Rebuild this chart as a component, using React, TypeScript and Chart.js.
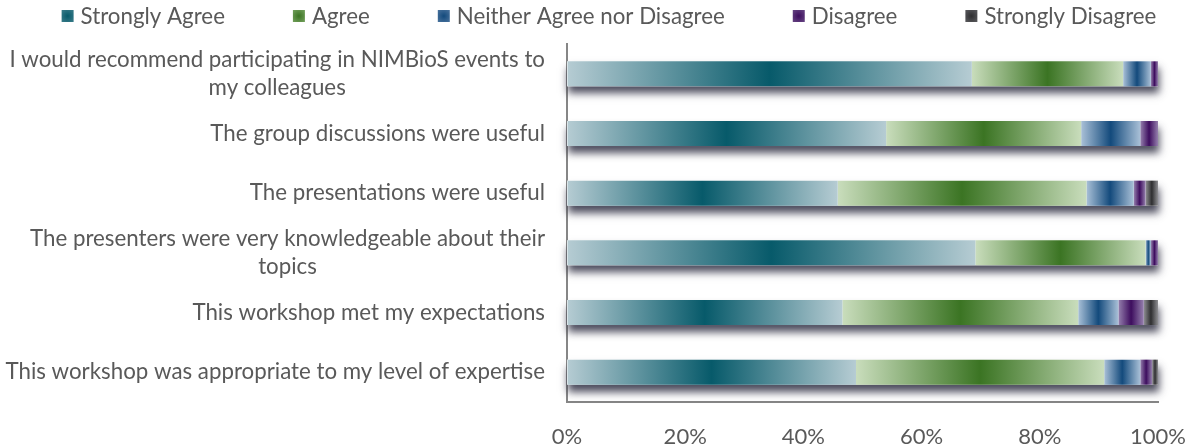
import React, { useEffect, useRef } from "react";
import { Chart, registerables } from "chart.js";

Chart.register(...registerables);

// ---------- data ----------
const categories: string[][] = [
  ["I would recommend participating in NIMBioS events to", "my colleagues"],
  ["The group discussions were useful"],
  ["The presentations were useful"],
  ["The presenters were very knowledgeable about their", "topics"],
  ["This workshop met my expectations"],
  ["This workshop was appropriate to my level of expertise"],
];
const seriesNames = [
  "Strongly Agree",
  "Agree",
  "Neither Agree nor Disagree",
  "Disagree",
  "Strongly Disagree",
];
const stronglyAgree = [68.5, 54.0, 45.8, 69.1, 46.6, 48.9];
const agree = [25.6, 33.0, 42.1, 28.8, 39.9, 42.0];
const neitherAgreeNorDisagree = [4.7, 10.0, 8.0, 0.9, 6.8, 6.1];
const disagree = [1.2, 3.0, 2.0, 1.2, 4.3, 2.0];
const stronglyDisagree = [0, 0, 2.1, 0, 2.4, 1.0];
const xTickValues = [0, 20, 40, 60, 80, 100];

// ---------- style ----------
const FONT = "Lato, 'Open Sans', sans-serif";
const FONT_SIZE = 22.3;
const TICK_SIZE = 22;
const TEXT = "#595959";
const AXIS = "#868686";

const palette = [
  { edge: "#b6ccd3", dark: "#075a6a", mid: "#3f7f8c" },
  { edge: "#c9ddbc", dark: "#3b7423", mid: "#78a461" },
  { edge: "#a9c0d7", dark: "#134a7c", mid: "#4f76a0" },
  { edge: "#9580ad", dark: "#3d0d5e", mid: "#6a4a86" },
  { edge: "#8e8e92", dark: "#2e2e30", mid: "#5e5e62" },
];

function segmentFill(c: any) {
  const p = palette[c.datasetIndex] || palette[0];
  const chart = c.chart;
  const xs = chart && chart.scales ? chart.scales.x : null;
  if (c.type !== "data" || !xs || !chart.chartArea) return p.mid;
  const i = c.dataIndex;
  const ds = chart.data.datasets;
  let start = 0;
  for (let d = 0; d < c.datasetIndex; d++) start += Number(ds[d].data[i]) || 0;
  const end = start + (Number(ds[c.datasetIndex].data[i]) || 0);
  const x0 = xs.getPixelForValue(start);
  const x1 = xs.getPixelForValue(end);
  if (!(x1 - x0 > 0.5)) return p.dark;
  const g = chart.ctx.createLinearGradient(x0, 0, x1, 0);
  g.addColorStop(0, p.edge);
  g.addColorStop(0.5, p.dark);
  g.addColorStop(1, p.edge);
  return g;
}

const shadowPlugin = {
  id: "barShadow",
  beforeDatasetsDraw(chart: any) {
    const { ctx } = chart;
    const xs = chart.scales.x;
    const meta0 = chart.getDatasetMeta(0);
    const ds = chart.data.datasets;
    ctx.save();
    ctx.shadowColor = "rgba(45,45,65,0.85)";
    ctx.shadowBlur = 8;
    ctx.shadowOffsetY = 7;
    ctx.shadowOffsetX = 1;
    ctx.fillStyle = "#ffffff";
    meta0.data.forEach((el: any, i: number) => {
      let total = 0;
      ds.forEach((d: any) => (total += Number(d.data[i]) || 0));
      const x0 = xs.getPixelForValue(0);
      const x1 = xs.getPixelForValue(total);
      const h = el.height;
      ctx.fillRect(x0, el.y - h / 2, x1 - x0, h);
    });
    ctx.restore();
  },
};

const yLabelPlugin = {
  id: "yLabels",
  afterDraw(chart: any) {
    const { ctx } = chart;
    const ys = chart.scales.y;
    const right = chart.chartArea.left - 22;
    const lineH = 28;
    ctx.save();
    ctx.font = `${FONT_SIZE}px ${FONT}`;
    ctx.fillStyle = TEXT;
    ctx.textBaseline = "middle";
    (chart.data.labels as string[][]).forEach((lines, i) => {
      const yc = ys.getPixelForValue(i);
      const widths = lines.map((l) => ctx.measureText(l).width);
      const w = Math.max(...widths);
      const cx = right - w / 2;
      lines.forEach((l, k) => {
        const y = yc + (k - (lines.length - 1) / 2) * lineH;
        if (lines.length === 1) {
          ctx.textAlign = "right";
          ctx.fillText(l, right, y);
        } else {
          ctx.textAlign = "center";
          ctx.fillText(l, cx, y);
        }
      });
    });
    ctx.restore();
  },
};

const legendPlugin = {
  id: "gradLegend",
  afterDraw(chart: any) {
    const { ctx } = chart;
    const box = 12;
    const boxGap = 7;
    const itemGap = 68;
    const cy = 16;
    const centerX = 609;
    ctx.save();
    ctx.font = `${FONT_SIZE}px ${FONT}`;
    ctx.textBaseline = "middle";
    ctx.textAlign = "left";
    const names = chart.data.datasets.map((d: any) => d.label);
    const widths = names.map((n: string) => ctx.measureText(n).width);
    const total =
      widths.reduce((a: number, w: number) => a + box + boxGap + w, 0) +
      itemGap * (names.length - 1);
    let x = centerX - total / 2;
    names.forEach((n: string, i: number) => {
      const p = palette[i];
      const bx = x + box / 2;
      const g = ctx.createRadialGradient(bx, cy, 0, bx, cy, box * 0.75);
      g.addColorStop(0, p.dark);
      g.addColorStop(1, p.mid);
      ctx.fillStyle = g;
      ctx.fillRect(x, cy - box / 2, box, box);
      ctx.fillStyle = TEXT;
      ctx.fillText(n, x + box + boxGap, cy + 1);
      x += box + boxGap + widths[i] + itemGap;
    });
    ctx.restore();
  },
};

export default function App() {
  const canvasRef = useRef<HTMLCanvasElement | null>(null);

  useEffect(() => {
    if (!canvasRef.current) return;
    Chart.defaults.font.family = FONT;
    Chart.defaults.color = TEXT;
    const seriesValues = [
      stronglyAgree,
      agree,
      neitherAgreeNorDisagree,
      disagree,
      stronglyDisagree,
    ];
    const chart = new Chart(canvasRef.current, {
      type: "bar",
      data: {
        labels: categories,
        datasets: seriesNames.map((name, i) => ({
          label: name,
          data: seriesValues[i],
          backgroundColor: segmentFill,
          borderWidth: 0,
          categoryPercentage: 1,
          barPercentage: 0.42,
        })),
      },
      options: {
        indexAxis: "y",
        animation: false,
        responsive: true,
        maintainAspectRatio: false,
        layout: { padding: { top: 44, right: 28, left: 0, bottom: 0 } },
        plugins: {
          legend: { display: false },
          tooltip: { enabled: false },
        },
        scales: {
          x: {
            stacked: true,
            min: 0,
            max: 100,
            grid: {
              display: true,
              drawOnChartArea: false,
              drawTicks: true,
              tickLength: 22,
              color: "rgba(0,0,0,0)",
            },
            border: { display: true, color: AXIS, width: 2 },
            afterBuildTicks: (s: any) => {
              s.ticks = xTickValues.map((v) => ({ value: v }));
            },
            afterFit: (s: any) => {
              s.height = 44;
            },
            ticks: {
              padding: 0,
              color: TEXT,
              font: { size: TICK_SIZE, family: FONT },
              callback: (v: any) => `${v}%`,
              maxRotation: 0,
            },
          },
          y: {
            stacked: true,
            grid: { display: false, drawTicks: false },
            border: { display: true, color: AXIS, width: 2 },
            ticks: { display: false },
            afterFit: (s: any) => {
              s.width = 567;
            },
          },
        },
      },
      plugins: [shadowPlugin, yLabelPlugin, legendPlugin],
    } as any);
    return () => chart.destroy();
  }, []);

  return (
    <div
      style={{
        position: "fixed",
        left: 0,
        top: 0,
        width: 1186,
        height: 446,
        background: "#ffffff",
      }}
    >
      <canvas ref={canvasRef} />
    </div>
  );
}
